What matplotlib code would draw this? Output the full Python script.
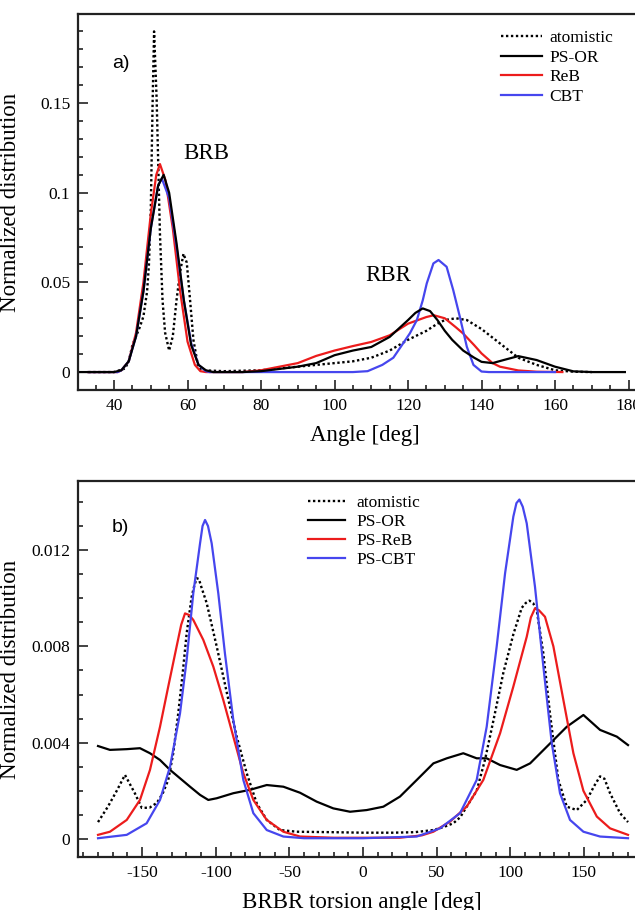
import matplotlib
matplotlib.use("Agg")
import matplotlib.pyplot as plt
from matplotlib.ticker import MultipleLocator, FuncFormatter

plt.rcParams['font.family'] = ['Liberation Serif', 'DejaVu Serif']
plt.rcParams['axes.unicode_minus'] = False

# ---- a) bending angle distributions ----
ang_atom = [33, 40, 43, 44, 45, 46, 47, 48, 49, 49.5, 50, 50.5, 50.9, 51.6, 52.5, 53.2, 53.9,
            55, 56, 57, 58, 58.9, 59.8, 60.7, 61.6, 62.9, 64, 70, 80, 90, 100, 105, 110, 115,
            120, 125, 128, 130, 133, 136, 140, 145, 150, 155, 160, 165, 170]
dist_atom = [0, 0, 0.002, 0.006, 0.015, 0.02, 0.025, 0.031, 0.045, 0.06, 0.09, 0.15, 0.19, 0.152,
             0.077, 0.04, 0.022, 0.012, 0.02, 0.04, 0.056, 0.066, 0.061, 0.04, 0.018, 0.003, 0.001,
             0.0005, 0.001, 0.003, 0.005, 0.006, 0.008, 0.012, 0.018, 0.023, 0.027, 0.029, 0.03,
             0.029, 0.024, 0.016, 0.008, 0.004, 0.001, 0.0002, 0]

ang_or = [30, 40, 42, 44, 46, 48, 50, 52, 53.5, 55, 57, 59, 61, 63, 65, 67, 75, 80, 90, 95, 100,
          105, 110, 115, 120, 122, 124, 126, 128, 130, 132, 135, 138, 140, 143, 146, 150, 155,
          160, 165, 170, 179]
dist_or = [0, 0, 0.001, 0.006, 0.02, 0.045, 0.08, 0.104, 0.11, 0.1, 0.072, 0.04, 0.015, 0.004,
           0.001, 0, 0, 0.0005, 0.003, 0.005, 0.0094, 0.012, 0.014, 0.0196, 0.029, 0.033, 0.0355,
           0.034, 0.029, 0.023, 0.018, 0.012, 0.008, 0.0057, 0.005, 0.0067, 0.0089, 0.0067,
           0.003, 0.0004, 0, 0]

ang_reb = [33, 41, 42, 44, 46, 48, 50, 51.5, 52.5, 54, 56, 58, 60, 62, 63.5, 65, 75, 80, 85, 90,
           95, 100, 105, 110, 115, 120, 125, 127, 130, 133, 135, 138, 140, 143, 145, 150, 155, 162]
dist_reb = [0, 0, 0.001, 0.006, 0.022, 0.05, 0.088, 0.11, 0.116, 0.107, 0.08, 0.045, 0.017, 0.004,
            0.0005, 0, 0, 0.001, 0.003, 0.005, 0.009, 0.012, 0.0145, 0.0168, 0.0205, 0.027,
            0.0307, 0.0317, 0.03, 0.025, 0.0215, 0.015, 0.0104, 0.005, 0.003, 0.0009, 0.0002, 0]

ang_cbt = [33, 41, 42, 44, 46, 48, 50, 52, 53, 55, 57, 59, 61, 63, 65, 66, 105, 109, 113, 116,
           118, 120.5, 122.4, 124, 125.1, 126.9, 128.3, 130.5, 132.3, 134.1, 136, 137.8, 140,
           142, 160]
dist_cbt = [0, 0, 0.001, 0.006, 0.02, 0.045, 0.08, 0.104, 0.108, 0.097, 0.07, 0.04, 0.016, 0.004,
            0.0005, 0, 0, 0.0005, 0.004, 0.008, 0.014, 0.0216, 0.029, 0.04, 0.0495, 0.0606,
            0.0625, 0.0587, 0.0457, 0.0308, 0.0141, 0.004, 0.0003, 0, 0]

# ---- b) BRBR torsion distributions ----
tor_atom = [-180, -173.3, -167.3, -161.7, -155, -150.3, -145, -140, -136, -132.3, -128.9, -125.5,
            -122.5, -119.8, -116.4, -114.7, -113, -111.5, -110, -106.2, -99.4, -92.6, -85.8, -79,
            -72.2, -65.4, -56.4, -45, -20, 0, 20, 35, 47.8, 55, 61.3, 66, 70.4, 77.2, 82.9, 88.5,
            95.3, 102.1, 107.8, 110.5, 113, 115.5, 118, 122.5, 127, 132.7, 138.4, 145.2, 152, 157,
            161, 164, 167.8, 174.6, 180]
tdist_atom = [0.0007, 0.00134, 0.002, 0.00266, 0.0019, 0.00129, 0.0013, 0.0015, 0.0019, 0.00245,
              0.00356, 0.00522, 0.00688, 0.00854, 0.01006, 0.0105, 0.01083, 0.0108, 0.0105,
              0.0098, 0.008, 0.0061, 0.00425, 0.00273, 0.00148, 0.00079, 0.00037, 0.0003,
              0.00028, 0.00026, 0.00026, 0.00028, 0.00037, 0.0005, 0.00065, 0.0009, 0.00134,
              0.002, 0.0033, 0.0049, 0.0069, 0.0085, 0.0096, 0.0098, 0.0099, 0.0098, 0.0095,
              0.0077, 0.0052, 0.00245, 0.00134, 0.0012, 0.00162, 0.0022, 0.0026, 0.0025, 0.0019,
              0.00107, 0.0007]

tor_or = [-180, -171.9, -160.5, -151.5, -144.7, -137.9, -131.1, -124.3, -117.5, -110.7, -105.1,
          -99.4, -88.1, -76.8, -65.4, -54.1, -42.8, -31.5, -20.2, -8.8, 2.5, 13.8, 25.1, 36.5,
          47.8, 56.9, 68.1, 77.2, 84, 93.1, 104.4, 113.5, 124.8, 138.4, 149.7, 161, 172.4, 180]
tdist_or = [0.00386, 0.0037, 0.00373, 0.00377, 0.00356, 0.00328, 0.00287, 0.00252, 0.00217,
            0.00183, 0.00162, 0.00169, 0.0019, 0.00204, 0.00224, 0.00217, 0.00192, 0.00155,
            0.00127, 0.00113, 0.0012, 0.00134, 0.00176, 0.00245, 0.00314, 0.00335, 0.00356,
            0.00335, 0.00335, 0.00307, 0.00287, 0.00314, 0.00383, 0.00466, 0.00515, 0.00453,
            0.00425, 0.0039]

tor_reb = [-180, -171.9, -160.5, -151.5, -144.7, -137.9, -132.3, -126.6, -123.5, -120.9, -118,
           -115.3, -108.5, -101.7, -94.9, -88.1, -81.3, -74.5, -65.4, -54.1, -42.8, -20, 0, 25,
           40, 47.8, 59.1, 70.4, 81.7, 93.1, 102.1, 111.2, 114, 116.8, 119.5, 123.6, 129.3,
           136.1, 142.9, 149.7, 158.8, 167.8, 180]
tdist_reb = [0.00017, 0.0003, 0.00079, 0.00162, 0.00287, 0.00466, 0.00633, 0.008, 0.0089,
             0.00937, 0.0093, 0.0091, 0.00827, 0.00716, 0.00577, 0.00425, 0.00273, 0.00162,
             0.00079, 0.0003, 0.0001, 0.00005, 0.00005, 0.00005, 0.00015, 0.0003, 0.00072,
             0.00134, 0.00245, 0.00439, 0.00633, 0.0084, 0.0092, 0.00958, 0.0095, 0.00923,
             0.008, 0.00577, 0.00356, 0.002, 0.00093, 0.00044, 0.00017]

tor_cbt = [-180, -160.5, -147, -137.9, -131.1, -124.3, -119.8, -115.3, -110.7, -109, -107.3,
           -105.3, -102.8, -98.3, -93.8, -88.1, -81.3, -74.5, -65.4, -54.1, -40, 0, 36.5, 52.3,
           65.9, 77.2, 84, 90.8, 96.5, 102.1, 104.2, 106.2, 108.5, 111.2, 116.8, 122.5, 128.2,
           133.8, 140.6, 149.7, 161, 180]
tdist_cbt = [0.00003, 0.00017, 0.00065, 0.00162, 0.003, 0.00522, 0.00744, 0.0102, 0.01228,
             0.0130, 0.01325, 0.0130, 0.01228, 0.0102, 0.00771, 0.00494, 0.00245, 0.00107,
             0.00037, 0.0001, 0.00003, 0.00003, 0.0001, 0.00044, 0.00107, 0.00245, 0.00466,
             0.008, 0.01104, 0.01339, 0.01395, 0.0141, 0.0138, 0.01311, 0.01048, 0.00716,
             0.00398, 0.0019, 0.00079, 0.0003, 0.0001, 0.00003]

RED = '#ec1c1c'
BLUE = '#4646ee'
DOT = (0, (1, 1.1))

W, H = 635, 910
fig = plt.figure(figsize=(W / 100, H / 100), dpi=100)

# axes boxes from pixel edges (left, top, right, bottom)
ax_a = fig.add_axes([78 / W, 1 - 390 / H, (637 - 78) / W, (390 - 14) / H])
ax_b = fig.add_axes([78 / W, 1 - 857 / H, (637 - 78) / W, (857 - 481) / H])

ax_a.plot(ang_atom, dist_atom, color='black', ls=DOT, lw=1.7, label='atomistic')
ax_a.plot(ang_reb, dist_reb, color=RED, lw=1.6, label='ReB')
ax_a.plot(ang_cbt, dist_cbt, color=BLUE, lw=1.6, label='CBT')
ax_a.plot(ang_or, dist_or, color='black', lw=1.6, label='PS-OR')

ax_b.plot(tor_atom, tdist_atom, color='black', ls=DOT, lw=1.7, label='atomistic')
ax_b.plot(tor_or, tdist_or, color='black', lw=1.6, label='PS-OR')
ax_b.plot(tor_reb, tdist_reb, color=RED, lw=1.6, label='PS-ReB')
ax_b.plot(tor_cbt, tdist_cbt, color=BLUE, lw=1.6, label='PS-CBT')

ax_a.set_xlim(30.2, 182.3)
ax_a.set_ylim(-0.01, 0.1997)
ax_a.xaxis.set_major_locator(MultipleLocator(20))
ax_a.xaxis.set_minor_locator(MultipleLocator(5))
ax_a.yaxis.set_major_locator(MultipleLocator(0.05))
ax_a.yaxis.set_minor_locator(MultipleLocator(0.01))

ax_b.set_xlim(-193.6, 186.1)
ax_b.set_ylim(-0.00075, 0.01487)
ax_b.xaxis.set_major_locator(MultipleLocator(50))
ax_b.xaxis.set_minor_locator(MultipleLocator(10))
ax_b.yaxis.set_major_locator(MultipleLocator(0.004))
ax_b.yaxis.set_minor_locator(MultipleLocator(0.001))

fmt = FuncFormatter(lambda v, p: '0' if abs(v) < 1e-9 else '%g' % round(v, 6))

for ax in (ax_a, ax_b):
    ax.yaxis.set_major_formatter(fmt)
    ax.tick_params(which='both', direction='in', top=False, right=False, width=1.2,
                   labelsize=12.5, color='#222222')
    ax.tick_params(which='major', length=7, pad=5.5)
    ax.tick_params(which='minor', length=3.5)
    for s in ax.spines.values():
        s.set_linewidth(1.6)
        s.set_color('#222222')
    ax.set_ylabel('Normalized distribution', fontsize=16.5)
    ax.yaxis.set_label_coords(-0.102, 0.5)

ax_a.set_xlabel('Angle [deg]', fontsize=16.5)
ax_a.xaxis.set_label_coords((365 - 78) / 559, -0.092)
ax_b.set_xlabel('BRBR torsion angle [deg]', fontsize=16.5)
ax_b.xaxis.set_label_coords((362 - 78) / 559, -0.094)

# panel tags
fig.text(112 / W, 1 - 63 / H, 'a)', fontsize=14, family='Liberation Sans', va='center')
fig.text(112 / W, 1 - 528 / H, 'b)', fontsize=14, family='Liberation Sans', va='center')

ax_a.text(65.0, 0.122, 'BRB', fontsize=16.5, ha='center', va='center')
ax_a.text(114.6, 0.054, 'RBR', fontsize=16.5, ha='center', va='center')

ha_a, la_a = ax_a.get_legend_handles_labels()
order = [0, 3, 1, 2]
ax_a.legend([ha_a[i] for i in order], [la_a[i] for i in order], loc='upper left',
            bbox_to_anchor=((501 - 78) / 559, (390 - 30) / 376), frameon=False, fontsize=12.5,
            borderpad=0, borderaxespad=0, handlelength=2.35, handletextpad=0.45,
            labelspacing=0.2)
ax_b.legend(loc='upper left', bbox_to_anchor=((308 - 78) / 559, (857 - 495) / 376),
            frameon=False, fontsize=12.5, borderpad=0, borderaxespad=0, handlelength=2.15,
            handletextpad=0.65, labelspacing=0.17)

fig.savefig('out.png', dpi=100)
